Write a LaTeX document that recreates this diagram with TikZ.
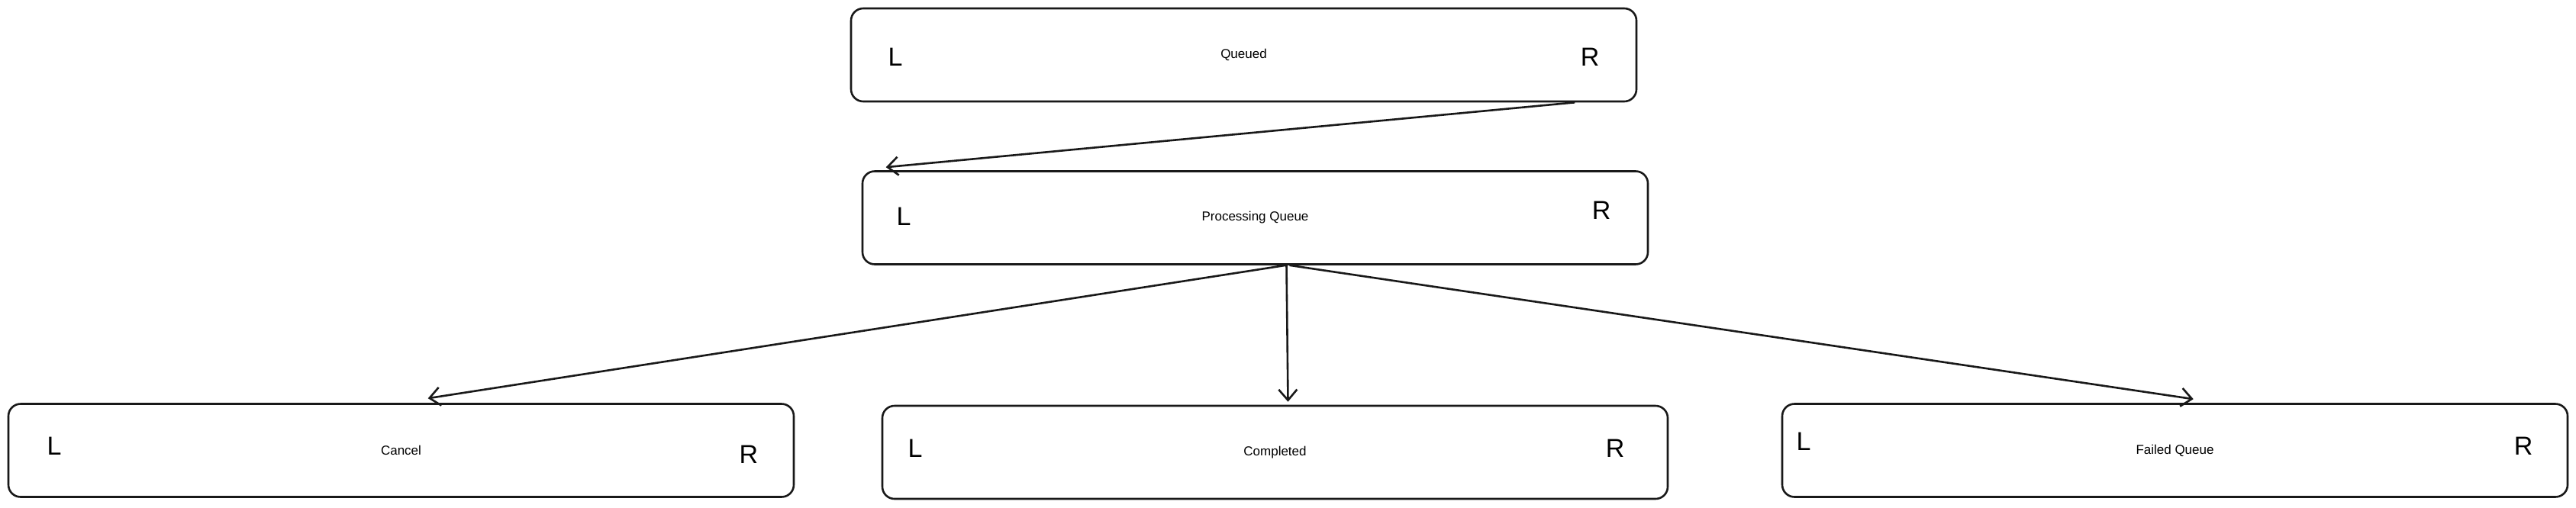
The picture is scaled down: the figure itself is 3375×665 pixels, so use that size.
\documentclass[tikz,border=0pt]{standalone}
\usepackage{fontspec}
\setmainfont{Liberation Sans}
\usetikzlibrary{arrows.meta}
\begin{document}
\begin{tikzpicture}[x=1pt,y=-1pt,
  box/.style={draw=black!90, line width=2.6pt, rounded corners=16pt, minimum width=1029pt, minimum height=122pt, inner sep=0pt, font=\fontsize{17}{20}\selectfont},
  side/.style={font=\fontsize{34}{40}\selectfont, inner sep=0pt},
  conn/.style={draw=black!90, line width=2.6pt, -{Straight Barb[length=14pt,width=24pt,line width=2.6pt]}}]
\useasboundingbox[fill=white] (0,0) rectangle (3375,665);
\node[box] (queued) at (1629.5,72) {Queued};
\node[box] (proc) at (1644.5,285.5) {Processing Queue};
\node[box] (cancel) at (525.5,590.5) {Cancel};
\node[box] (completed) at (1670.5,593) {Completed};
\node[box] (failed) at (2849.5,590.5) {Failed Queue};
\node[side] (qL) at (1173,75) {L};
\node[side] (qR) at (2083,75) {R};
\node[side] (pL) at (1184,284) {L};
\node[side] (pR) at (2098,276) {R};
\node[side] (cL) at (71,585) {L};
\node[side] (cR) at (981,596) {R};
\node[side] (mL) at (1199,588) {L};
\node[side] (mR) at (2116,588) {R};
\node[side] (fL) at (2363,579) {L};
\node[side] (fR) at (3306,585) {R};
\draw[conn] ([xshift=-82pt]queued.south east) -- ([xshift=32pt,yshift=4pt]proc.north west);
\draw[conn] ([xshift=40pt]proc.south) -- ([xshift=551pt,yshift=6pt]cancel.north west);
\draw[conn] ([xshift=41pt]proc.south) -- ([xshift=17pt,yshift=4pt]completed.north);
\draw[conn] ([xshift=45pt]proc.south) -- ([xshift=540pt,yshift=5pt]failed.north west);
\end{tikzpicture}
\end{document}
